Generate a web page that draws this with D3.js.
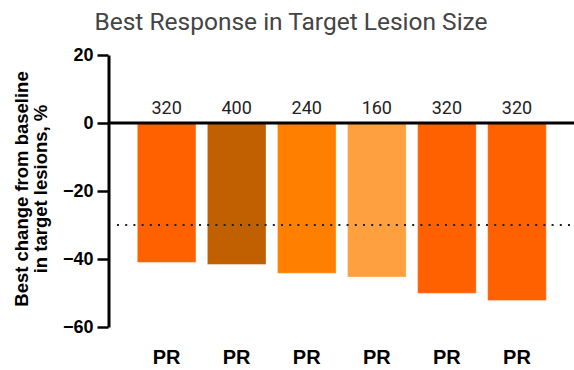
<!DOCTYPE html>
<html>
<head>
<meta charset="utf-8">
<script src="https://cdn.jsdelivr.net/npm/d3@7"></script>
<style>
  html, body { margin: 0; padding: 0; background: #fff; }
  svg { display: block; }
</style>
</head>
<body>
<svg id="chart" width="574" height="370"></svg>
<script>
// Patients, ordered by depth of response
const patients = ["Pt 1", "Pt 2", "Pt 3", "Pt 4", "Pt 5", "Pt 6"];
const responses = ["PR", "PR", "PR", "PR", "PR", "PR"];
const doses = [320, 400, 240, 160, 320, 320];
const bestChange = [-41.0, -41.6, -44.2, -45.3, -50.1, -52.2];
const yTicks = [20, 0, -20, -40, -60];
const prThreshold = -30;

const doseLevels = [160, 240, 320, 400];
const doseColors = ["#FFA040", "#FF8000", "#FF6000", "#C06000"];

const rows = patients.map((p, i) => ({
  patient: p, response: responses[i], dose: doses[i], change: bestChange[i]
}));

const svg = d3.select("#chart");
const W = 574;

const y = d3.scaleLinear().domain([-60, 20]).range([327, 55]);
const x = d3.scaleBand().domain(patients).range([137.3, 546.3])
  .paddingInner(0.163).paddingOuter(0);
const color = d3.scaleOrdinal().domain(doseLevels).range(doseColors);

const axisX = 108.5;

// Title
svg.append("text")
  .attr("x", 291).attr("y", 29.5)
  .attr("text-anchor", "middle")
  .attr("font-family", "Roboto, sans-serif")
  .attr("font-size", 24.5)
  .attr("fill", "#444")
  .text("Best Response in Target Lesion Size");

// Bars
svg.append("g").selectAll("rect")
  .data(rows)
  .join("rect")
  .attr("x", d => x(d.patient))
  .attr("y", y(0))
  .attr("width", x.bandwidth())
  .attr("height", d => y(d.change) - y(0))
  .attr("fill", d => color(d.dose))
  .attr("stroke", "#fff")
  .attr("stroke-opacity", 0.35)
  .attr("stroke-width", 1);

// Dose labels above each bar
svg.append("g").selectAll("text")
  .data(rows)
  .join("text")
  .attr("x", d => x(d.patient) + x.bandwidth() / 2)
  .attr("y", 113.5)
  .attr("text-anchor", "middle")
  .attr("font-family", "Roboto, sans-serif")
  .attr("font-size", 18)
  .attr("fill", "#222")
  .text(d => d.dose);

// Response category labels
svg.append("g").selectAll("text")
  .data(rows)
  .join("text")
  .attr("x", d => x(d.patient) + x.bandwidth() / 2)
  .attr("y", 364)
  .attr("text-anchor", "middle")
  .attr("font-family", "'Liberation Sans', Arial, sans-serif")
  .attr("font-weight", "bold")
  .attr("font-size", 20)
  .attr("fill", "#000")
  .text(d => d.response);

// Partial-response threshold
svg.append("line")
  .attr("x1", 117).attr("x2", W)
  .attr("y1", y(prThreshold)).attr("y2", y(prThreshold))
  .attr("stroke", "#222")
  .attr("stroke-width", 2)
  .attr("stroke-dasharray", "2,6.2");

// Y axis
const yAxis = svg.append("g")
  .attr("transform", `translate(${axisX},0)`)
  .call(d3.axisLeft(y).tickValues(yTicks).tickSize(11).tickSizeOuter(0).tickPadding(4));
yAxis.select(".domain").attr("stroke", "#000").attr("stroke-width", 3);
yAxis.selectAll(".tick line").attr("stroke", "#000").attr("stroke-width", 2.5);
yAxis.selectAll(".tick text")
  .attr("font-family", "'Liberation Sans', Arial, sans-serif")
  .attr("font-weight", "bold")
  .attr("font-size", 18)
  .attr("fill", "#000");

// Zero baseline across the plot
svg.append("line")
  .attr("x1", axisX).attr("x2", W)
  .attr("y1", y(0)).attr("y2", y(0))
  .attr("stroke", "#000")
  .attr("stroke-width", 3);

// Y axis title (two lines)
const yTitle = svg.append("text")
  .attr("transform", `translate(0,${(y(-60) + y(20)) / 2 - 2}) rotate(-90)`)
  .attr("text-anchor", "middle")
  .attr("font-family", "'Liberation Sans', Arial, sans-serif")
  .attr("font-weight", "bold")
  .attr("font-size", 18.5)
  .attr("fill", "#000");
yTitle.append("tspan").attr("x", 0).attr("y", 28).text("Best change from baseline");
yTitle.append("tspan").attr("x", 0).attr("y", 47).text("in target lesions, %");
</script>
</body>
</html>
